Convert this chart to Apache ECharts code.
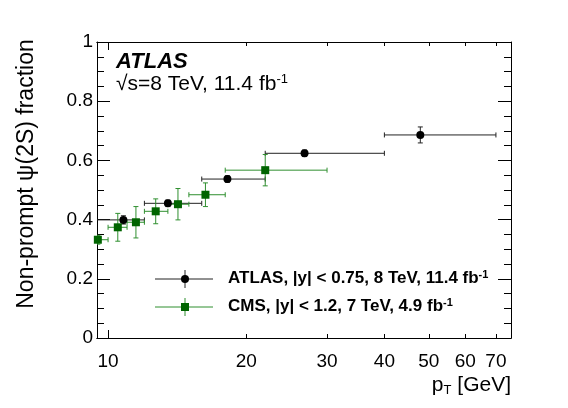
<!DOCTYPE html>
<html>
<head>
<meta charset="utf-8">
<script src="https://cdn.jsdelivr.net/npm/echarts@6/dist/echarts.min.js"></script>
<style>
html, body { margin: 0; padding: 0; background: #fff; }
#chart { width: 568px; height: 408px; }
</style>
</head>
<body>
<div id="chart"></div>
<script type="text/javascript">
// ATLAS, |y| < 0.75, 8 TeV
var atlasPt    = [10.8, 13.5, 18.2, 26.8, 47.9];
var atlasPtLo  = [9.0, 12, 16, 22, 40];
var atlasPtHi  = [12, 16, 22, 40, 70];
var atlasFrac  = [0.399, 0.455, 0.537, 0.624, 0.686];
var atlasErr   = [0.014, 0.011, 0.011, 0.011, 0.027];

// CMS, |y| < 1.2, 7 TeV
var cmsPt    = [9.5, 10.5, 11.5, 12.7, 14.2, 16.3, 22.0];
var cmsPtLo  = [9.0, 10, 11, 12, 13.5, 15, 18];
var cmsPtHi  = [10, 11, 12, 13.5, 15, 18, 30];
var cmsFrac  = [0.332, 0.374, 0.391, 0.428, 0.452, 0.484, 0.567];
var cmsErr   = [0.015, 0.047, 0.053, 0.042, 0.053, 0.040, 0.053];

// axis ticks
var xMajorTicks = [10];
var xOtherTicks = [20, 30, 40, 50, 60, 70];
var xLabels = [10, 20, 30, 40, 50, 60, 70];
var xMin = 9.46, xMax = 75.5;

var FONT = 'Liberation Sans';
var lg = function (v) { return Math.log10(v); };

// x is drawn on log10(pT)
function rows(pt, lo, hi, f, e) {
	var list = [];
	for (var i = 0; i < pt.length; i++) {
		list.push([lg(pt[i]), lg(lo[i]), lg(hi[i]), f[i], f[i] - e[i], f[i] + e[i]]);
	}
	return list;
}

function errRender(color) {
	return function (params, api) {
		var c  = api.coord([api.value(0), api.value(3)]);
		var l  = api.coord([api.value(1), api.value(3)]);
		var r  = api.coord([api.value(2), api.value(3)]);
		var lo = api.coord([api.value(0), api.value(4)]);
		var hi = api.coord([api.value(0), api.value(5)]);
		var cap = 2.5;
		var st = { stroke: color, lineWidth: 1 };
		var seg = function (x1, y1, x2, y2) {
			return { type: 'line', shape: { x1: x1, y1: y1, x2: x2, y2: y2 }, style: st };
		};
		return {
			type: 'group',
			children: [
				seg(l[0], c[1], r[0], c[1]),
				seg(l[0], c[1] - cap, l[0], c[1] + cap),
				seg(r[0], c[1] - cap, r[0], c[1] + cap),
				seg(c[0], lo[1], c[0], hi[1]),
				seg(c[0] - cap, lo[1], c[0] + cap, lo[1]),
				seg(c[0] - cap, hi[1], c[0] + cap, hi[1])
			]
		};
	};
}

var atlasRows = rows(atlasPt, atlasPtLo, atlasPtHi, atlasFrac, atlasErr);
var cmsRows = rows(cmsPt, cmsPtLo, cmsPtHi, cmsFrac, cmsErr);

var black = '#000000';
var green = '#006400';
var greenLine = '#2f8f2f';

function xAxisDef(pos, ticks, len, labels) {
	return {
		type: 'value',
		position: pos,
		min: lg(xMin),
		max: lg(xMax),
		axisLine: { show: true, lineStyle: { color: '#000', width: 1 } },
		splitLine: { show: false },
		axisTick: { show: true, inside: true, length: len, customValues: ticks.map(lg), lineStyle: { color: '#000' } },
		axisLabel: labels ? {
			show: true,
			customValues: labels.map(lg),
			formatter: function (v) { return Math.round(Math.pow(10, v)); },
			fontFamily: FONT, fontSize: 19, color: '#000', margin: 14
		} : { show: false }
	};
}

function yAxisDef(pos, labels) {
	return {
		type: 'value',
		position: pos,
		min: 0,
		max: 1,
		interval: 0.2,
		axisLine: { show: true, lineStyle: { color: '#000', width: 1 } },
		splitLine: { show: false },
		axisTick: { show: true, inside: true, length: 13, lineStyle: { color: '#000' } },
		minorTick: { show: true, splitNumber: 4, length: 7, lineStyle: { color: '#000' } },
		axisLabel: labels ? { show: true, fontFamily: FONT, fontSize: 19, color: '#000', margin: 4 } : { show: false }
	};
}

var chart = echarts.init(document.getElementById('chart'));
var option = {
	animation: false,
	backgroundColor: '#fff',
	grid: { left: 97, right: 57, top: 42, bottom: 70 },
	xAxis: [
		xAxisDef('bottom', xMajorTicks, 8, xLabels),
		xAxisDef('bottom', xOtherTicks, 4, null),
		xAxisDef('top', xMajorTicks, 8, null),
		xAxisDef('top', xOtherTicks, 4, null)
	],
	yAxis: [
		yAxisDef('left', true),
		yAxisDef('right', false)
	],
	series: [
		{
			name: 'ATLAS err', type: 'custom', clip: true,
			renderItem: errRender('#222'), data: atlasRows, z: 2
		},
		{
			name: 'CMS err', type: 'custom', clip: true,
			renderItem: errRender(greenLine), data: cmsRows, z: 2
		},
		{
			name: 'ATLAS', type: 'scatter', symbol: 'circle', symbolSize: 8,
			itemStyle: { color: black, opacity: 1 },
			data: atlasRows.map(function (d) { return [d[0], d[3]]; }), z: 3
		},
		{
			name: 'CMS', type: 'scatter', symbol: 'rect', symbolSize: 8,
			itemStyle: { color: green, opacity: 1 },
			data: cmsRows.map(function (d) { return [d[0], d[3]]; }), z: 3
		}
	],
	graphic: [
		// ATLAS label
		{ type: 'text', left: 116, top: 51, style: { text: 'ATLAS', font: 'italic bold 22px "Liberation Sans"', fill: '#000' } },
		{
			type: 'text', left: 116, top: 73,
			style: {
				text: '√s=8 TeV, 11.4 fb{s|-1}',
				fontFamily: FONT, fontSize: 21, fill: '#000',
				rich: {
					s: { fontFamily: FONT, fontSize: 13, verticalAlign: 'top', padding: [0, 0, 10, 0] }
				}
			}
		},
		// legend
		{ type: 'line', shape: { x1: 155, y1: 279, x2: 213, y2: 279 }, style: { stroke: '#222', lineWidth: 1 } },
		{ type: 'line', shape: { x1: 185, y1: 270, x2: 185, y2: 288 }, style: { stroke: '#222', lineWidth: 1 } },
		{ type: 'circle', shape: { cx: 185, cy: 279, r: 4 }, style: { fill: '#000' } },
		{
			type: 'text', left: 228, top: 269,
			style: {
				text: 'ATLAS, |y| < 0.75, 8 TeV, 11.4 fb{s|-1}',
				font: 'bold 17px "Liberation Sans"', fill: '#000',
				rich: { s: { font: 'bold 11px "Liberation Sans"', verticalAlign: 'top', padding: [0, 0, 8, 0] } }
			}
		},
		{ type: 'line', shape: { x1: 155, y1: 307, x2: 213, y2: 307 }, style: { stroke: greenLine, lineWidth: 1 } },
		{ type: 'line', shape: { x1: 185, y1: 298, x2: 185, y2: 316 }, style: { stroke: greenLine, lineWidth: 1 } },
		{ type: 'rect', shape: { x: 181, y: 303, width: 8, height: 8 }, style: { fill: green } },
		{
			type: 'text', left: 228, top: 297,
			style: {
				text: 'CMS, |y| < 1.2, 7 TeV, 4.9 fb{s|-1}',
				font: 'bold 17px "Liberation Sans"', fill: '#000',
				rich: { s: { font: 'bold 11px "Liberation Sans"', verticalAlign: 'top', padding: [0, 0, 8, 0] } }
			}
		},
		// axis titles
		{
			type: 'text', x: 27, y: 174, rotation: Math.PI / 2,
			style: { text: 'Non-prompt ψ(2S) fraction', fontFamily: FONT, fontSize: 23, fill: '#000', align: 'center', verticalAlign: 'middle' }
		},
		{
			type: 'text', x: 511, y: 385,
			style: {
				text: 'p{t|T} [GeV]', fontFamily: FONT, fontSize: 21, fill: '#000', align: 'right', verticalAlign: 'middle',
				rich: { t: { fontFamily: FONT, fontSize: 13, padding: [10, 0, 0, 0] } }
			}
		}
	]
};
chart.setOption(option);
</script>
</body>
</html>
